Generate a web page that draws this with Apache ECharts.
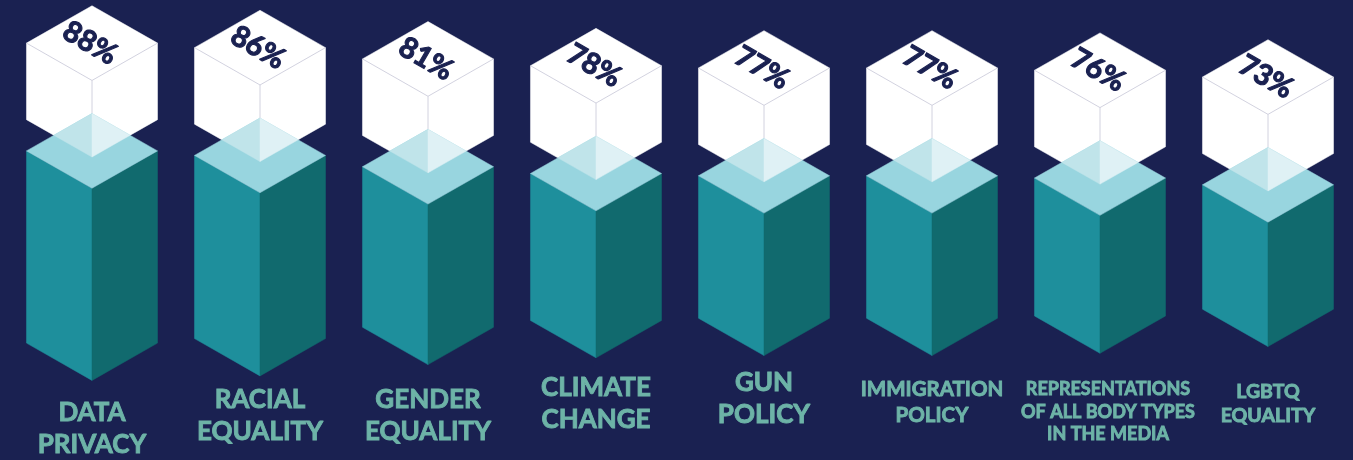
<!DOCTYPE html>
<html>
<head>
<meta charset="utf-8">
<script src="https://cdn.jsdelivr.net/npm/echarts@6/dist/echarts.min.js"></script>
<style>
  html, body { margin: 0; padding: 0; background: #1a2151; }
  #chart { width: 1353px; height: 460px; }
</style>
</head>
<body>
<div id="chart"></div>
<script>
// Topics and the share of respondents for each
const categories = [
  'DATA\nPRIVACY',
  'RACIAL\nEQUALITY',
  'GENDER\nEQUALITY',
  'CLIMATE\nCHANGE',
  'GUN\nPOLICY',
  'IMMIGRATION\nPOLICY',
  'REPRESENTATIONS\nOF ALL BODY TYPES\nIN THE MEDIA',
  'LGBTQ\nEQUALITY'
];
const shares = [88, 86, 81, 78, 77, 77, 76, 73];
const valueLabels = shares.map(v => v + '%');

// Layout and styling
const MID = 45.5;                 // columns extend symmetrically about this axis value
const labelFont = [26, 26, 26, 26, 26, 20.5, 18, 19.5];
const labelLine = [32, 32, 32, 32, 32, 25.7, 22.5, 23.3];
const labelCapTop = [403, 390, 390, 378, 373, 382, 383, 385];
const labelShift = [0, 0, 0, 0, 0, 0, 8, 0];

const COLORS = {
  bg: '#1a2151',
  sideLeft: '#1e8f9c',
  sideRight: '#116a6e',
  topFace: '#98d5df',
  glassLeft: '#c0e4ea',
  glassRight: '#dff1f5',
  cube: '#ffffff',
  cubeEdge: '#c7c7d7',
  pct: '#1a2151',
  label: '#6db3a7'
};

function poly(points, fill) {
  return { type: 'polygon', shape: { points }, style: { fill, stroke: fill, lineWidth: 0.5 } };
}

function renderItem(params, api) {
  const i = params.dataIndex;
  const v = api.value(1);
  const top = api.coord([i, v]);
  const bot = api.coord([i, 2 * MID - v]);
  const cx = top[0];
  const T = top[1];
  const B = bot[1];
  const w = api.size([1, 0])[0] * 0.39;   // half width of a column
  const d = w * 0.57;                       // isometric drop
  const lift = w * 1.645;                   // cube floats above the column
  const H = w * 1.168;                      // cube height
  const Lc = T - lift;

  const children = [];

  // white cube
  children.push(poly([
    [cx, Lc - d], [cx + w, Lc], [cx + w, Lc + H], [cx, Lc + H + d], [cx - w, Lc + H], [cx - w, Lc]
  ], COLORS.cube));
  children.push({
    type: 'polyline',
    shape: { points: [[cx - w, Lc], [cx, Lc + d], [cx + w, Lc]] },
    style: { stroke: COLORS.cubeEdge, lineWidth: 0.8, fill: null }
  });
  children.push({
    type: 'line',
    shape: { x1: cx, y1: Lc + d, x2: cx, y2: Lc + H + d },
    style: { stroke: COLORS.cubeEdge, lineWidth: 0.8 }
  });

  // teal column
  children.push(poly([[cx - w, T], [cx, T + d], [cx, B + d], [cx - w, B]], COLORS.sideLeft));
  children.push(poly([[cx, T + d], [cx + w, T], [cx + w, B], [cx, B + d]], COLORS.sideRight));
  children.push(poly([[cx, T - d], [cx - w, T], [cx, T + d], [cx + w, T]], COLORS.topFace));

  // where the top face shows through the cube
  const g = T - (Lc + H);                 // cube bottom corners above column top
  const k = d / w;
  const u = (2 * d - g) / (2 * k);
  const yI = T - d + k * u;
  const yF = Lc + H + d;
  children.push(poly([[cx, T - d], [cx - u, yI], [cx, yF]], COLORS.glassLeft));
  children.push(poly([[cx, T - d], [cx + u, yI], [cx, yF]], COLORS.glassRight));

  // value on the cube's top face
  children.push({
    type: 'text',
    x: cx - 2,
    y: Lc,
    rotation: -Math.PI / 6,
    style: {
      text: valueLabels[i],
      fill: COLORS.pct,
      stroke: COLORS.pct,
      lineWidth: 1.1,
      fontSize: 29,
      fontWeight: 'bold',
      fontFamily: 'Lato',
      align: 'center',
      verticalAlign: 'middle'
    }
  });

  // topic label
  const F = labelFont[i];
  const L = labelLine[i];
  children.push({
    type: 'text',
    x: cx + labelShift[i],
    y: labelCapTop[i] + 0.36 * F - L / 2,
    style: {
      text: categories[i],
      fill: COLORS.label,
      stroke: COLORS.label,
      lineWidth: 0.9,
      fontSize: F,
      lineHeight: L,
      fontWeight: 'bold',
      fontFamily: 'Lato',
      align: 'center',
      verticalAlign: 'top'
    }
  });

  return { type: 'group', children };
}

const chart = echarts.init(document.getElementById('chart'), null, { renderer: 'canvas' });
chart.setOption({
  backgroundColor: COLORS.bg,
  animation: false,
  grid: { left: 8, right: 1, top: 10.7, bottom: 19.7 },
  xAxis: {
    type: 'category',
    data: categories,
    show: false
  },
  yAxis: {
    type: 'value',
    min: -40,
    max: 150,
    show: false
  },
  series: [{
    type: 'custom',
    renderItem,
    clip: false,
    encode: { x: 0, y: 1 },
    data: shares.map((v, i) => [i, v])
  }]
});
</script>
</body>
</html>
